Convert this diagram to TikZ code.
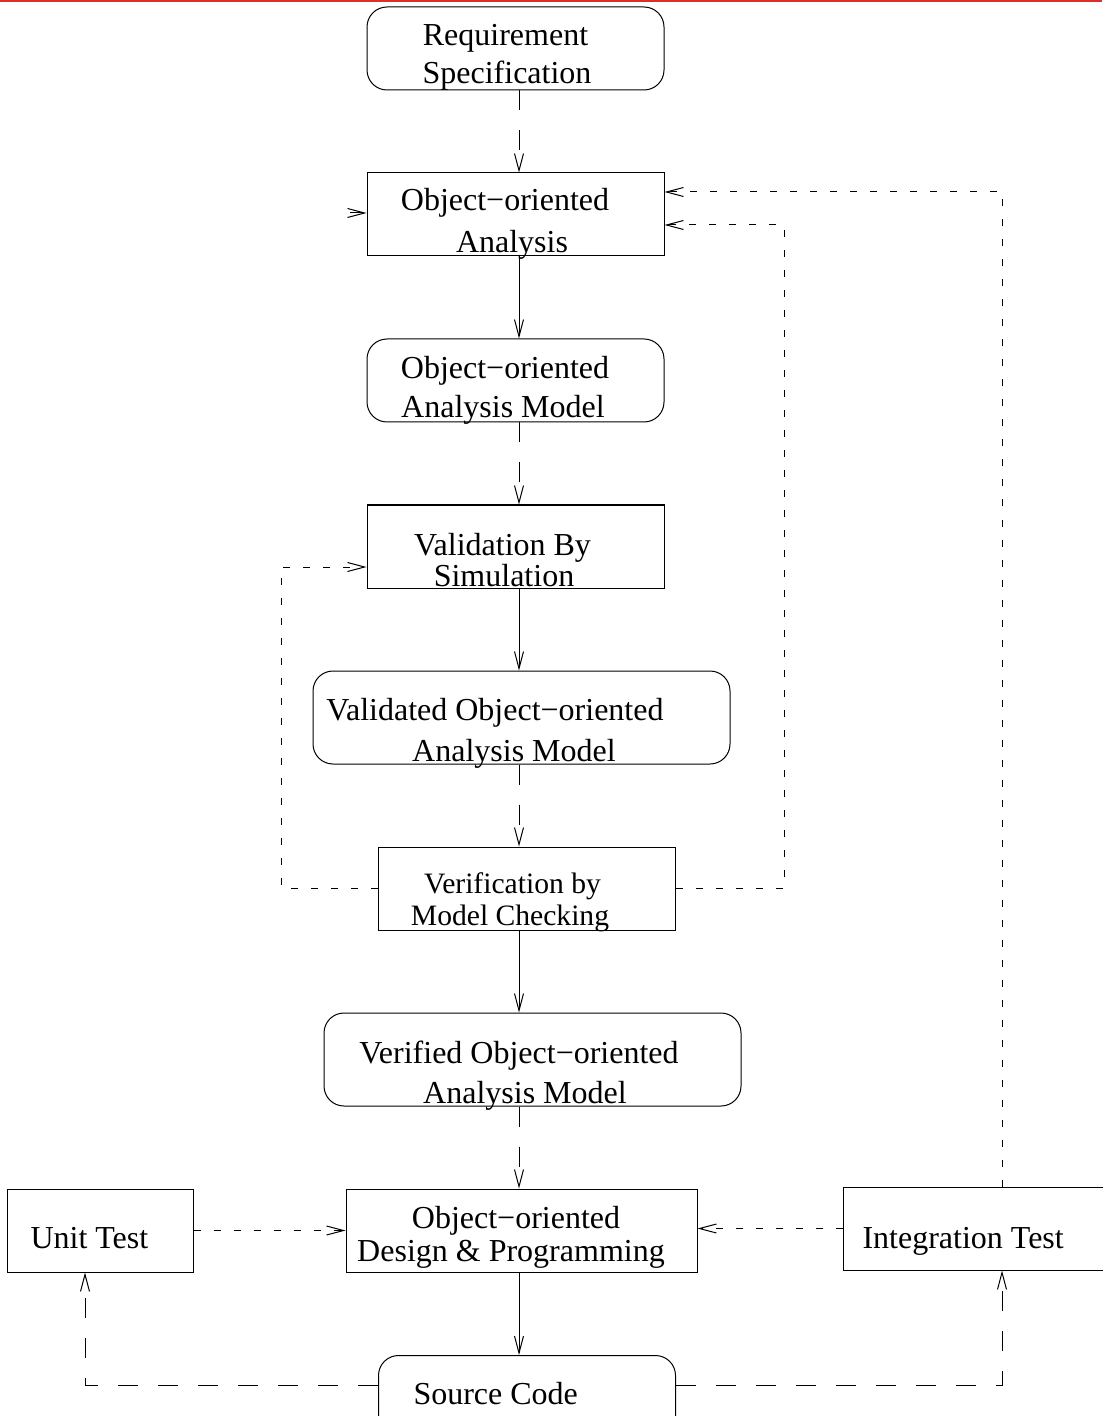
\documentclass[tikz,border=0pt]{standalone}
\usepackage{fontspec}
\setmainfont{Liberation Serif}
\usetikzlibrary{arrows.meta}
\definecolor{topline}{RGB}{222,45,45}

\begin{document}
\begin{tikzpicture}[x=.5pt,y=-.5pt,line width=.5pt,
  box/.style={draw,inner sep=0pt,minimum width=148.5pt,minimum height=41.5pt},
  rbox/.style={box,rounded corners=10pt},
  txt/.style={anchor=base,inner sep=0pt,font=\fontsize{16}{20}\selectfont},
  flow/.style={-{Straight Barb[length=8.5pt,width=4.5pt]}},
  longdash/.style={dash pattern=on 10pt off 10pt},
  shortdash/.style={dash pattern=on 3.5pt off 6.5pt}]
\path[use as bounding box] (0,0) rectangle (1102,1416);
\draw[topline,line width=1pt] (0,1)--(1102,1);

% frames
\node[rbox] (req) at (515.5,48.5) {};
\node[box] (ooa) at (515.5,214.5) {};
\node[rbox] (ooam) at (515.5,380.5) {};
\node[box] (valsim) at (515.5,546.5) {};
\node[rbox,minimum width=208.5pt,minimum height=46.5pt] (valmod) at (521.5,717.5) {};
\node[box] (verchk) at (526.5,888.5) {};
\node[rbox,minimum width=208.5pt,minimum height=46.5pt] (vermod) at (532.5,1059.5) {};
\node[box,minimum width=175.5pt] (design) at (521.5,1230.5) {};
\node[rbox,anchor=north] (src) at (527,1355) {};
\node[box,minimum width=93pt] (unit) at (100,1230.5) {};
\node[box,anchor=west,minimum width=160pt] (integ) at (843,1228.5) {};

% texts, one node per line
\node[txt] (req1) at (505.5,46) {Requirement};
\node[txt] (req2) at (507,84) {Specification};
\node[txt] (ooa1) at (505,211) {Object−oriented};
\node[txt] (ooa2) at (512,253) {Analysis};
\node[txt] (ooam1) at (505,379) {Object−oriented};
\node[txt] (ooam2) at (503,418) {Analysis Model};
\node[txt] (valsim1) at (502.5,555) {Validation By};
\node[txt] (valsim2) at (504,586) {Simulation};
\node[txt] (valmod1) at (495,720) {Validated Object−oriented};
\node[txt] (valmod2) at (514,761) {Analysis Model};
\node[txt,font=\fontsize{14.8}{18}\selectfont] (verchk1) at (512.5,893) {Verification by};
\node[txt,font=\fontsize{14.8}{18}\selectfont] (verchk2) at (510,925) {Model Checking};
\node[txt] (vermod1) at (519,1063) {Verified Object−oriented};
\node[txt] (vermod2) at (525,1103) {Analysis Model};
\node[txt] (design1) at (516,1228) {Object−oriented};
\node[txt] (design2) at (511,1261) {Design \& Programming};
\node[txt,anchor=base west] (unit1) at (30,1248) {Unit Test};
\node[txt,anchor=base west] (integ1) at (862,1248) {Integration Test};
\node[txt,anchor=base west] (src1) at (413,1404) {Source Code};

\coordinate (spine) at (519,0);
\coordinate (lbend) at (281,567);
\coordinate (rbend) at (784,225);
\coordinate (tbend) at (1002,192);
\coordinate (lbot) at (85,1385);
\coordinate (rbot) at (1002,1385);
\coordinate (stub) at (350,213);

\foreach \a/\b in {ooa/ooam,valsim/valmod,verchk/vermod,design/src}
  \draw[flow] (\a.south -| spine)--(\b.north -| spine);
\foreach \a/\b in {req/ooa,ooam/valsim,valmod/verchk,vermod/design}
  \draw[flow,longdash] (\a.south -| spine)--(\b.north -| spine);

% feedback
\draw[flow,shortdash] (verchk.west) -| (lbend)--(valsim.west |- lbend);
\draw[flow,shortdash] (verchk.east) -| (rbend)--(ooa.east |- rbend);
\draw[flow,shortdash] (integ.north -| tbend)--(tbend)--(ooa.east |- tbend);
\draw[flow,shortdash] (integ.west)--(design.east |- integ.west);
\draw[flow,shortdash] (unit.east)--(design.west);
\draw[flow,longdash] (src.west |- lbot)--(lbot)--(unit.south -| lbot);
\draw[flow,longdash] (src.east |- rbot)--(rbot)--(integ.south -| rbot);
\draw[flow] (stub)--(ooa.west |- stub);
\end{tikzpicture}
\end{document}
